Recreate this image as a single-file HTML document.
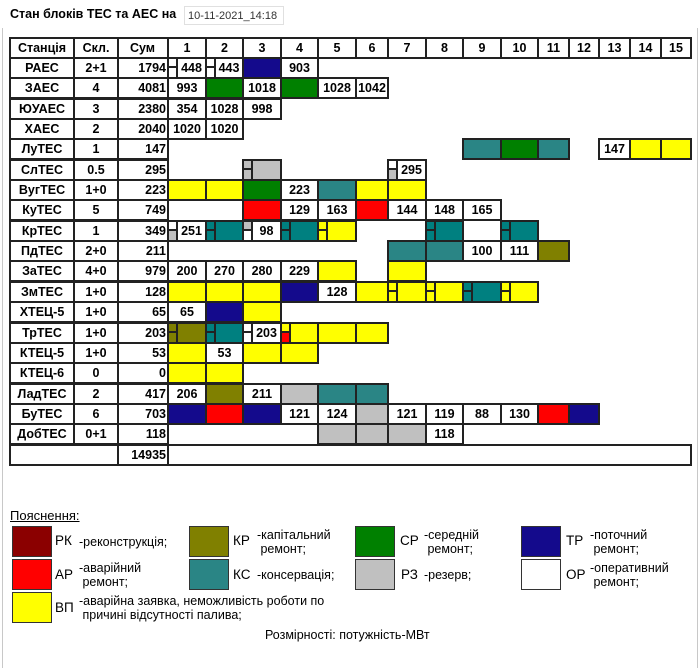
<!DOCTYPE html>
<html><head><meta charset="utf-8">
<style>
body{margin:0;width:700px;height:655px;background:#fff;position:relative;overflow:hidden;font-family:"Liberation Sans",Arial,sans-serif;}
.frame{position:absolute;left:2px;top:28px;width:694px;height:640px;border-left:1px solid #c8c8c8;border-right:1px solid #c8c8c8;}
.c{position:absolute;box-sizing:border-box;border:2px solid #222;height:22px;text-align:center;font:bold 12.5px/18px "Liberation Sans",Arial,sans-serif;color:#000;background:#fff;overflow:hidden;}
.sp{padding-left:9px}
.s{position:absolute;left:0;top:0;bottom:0;width:9px;border-right:2px solid #222;box-sizing:border-box}
.s b{display:block;height:50%;box-sizing:border-box;background:#fff}
.s b:first-child{border-bottom:2px solid #222}
.a{left:9px;width:66px}.b{left:73px;width:46px}.d{left:117px;width:52px;text-align:right;padding-right:1px}
.k1{left:167px;width:40px}.k2{left:205px;width:39px}.k3{left:242px;width:40px}.k4{left:280px;width:39px}.k5{left:317px;width:40px}
.k6{left:355px;width:34px}.k7{left:387px;width:40px}.k8{left:425px;width:39px}.k9{left:462px;width:40px}.k10{left:500px;width:39px}
.k11{left:537px;width:33px}.k12{left:568px;width:32px}.k13{left:598px;width:33px}.k14{left:629px;width:33px}.k15{left:660px;width:32px}
.y{background:#ffff00}.r{background:#ff0000}.n{background:#140a8c}.g{background:#008000}.t{background:#2a8585}.t2{background:#008080}.o{background:#808000}.gr{background:#c0c0c0}
.s b.y{background:#ffff00}.s b.r{background:#ff0000}.s b.t2{background:#008080}.s b.o{background:#808000}.s b.gr{background:#c0c0c0}
.sw{position:absolute;width:40px;height:31px;box-sizing:border-box;border:1.5px solid #333}
.lt{position:absolute;font-size:12.5px;line-height:14px;color:#000}
.ab{position:absolute;font-size:13.5px;color:#000}
</style></head><body>
<div class="frame"></div>
<div style="position:absolute;left:10px;top:7px;font:bold 12.5px 'Liberation Sans',sans-serif">Стан блоків ТЕС та АЕС на</div>
<div style="position:absolute;left:184px;top:6px;width:100px;height:19px;border:1px solid #e0e0e0;box-sizing:border-box;font-size:11px;line-height:18px;color:#333;padding-left:3px">10-11-2021_14:18</div>

<!-- header -->
<div class="c a" style="top:37px">Станція</div><div class="c b" style="top:37px">Скл.</div><div class="c d" style="top:37px;text-align:center">Сум</div>
<div class="c k1" style="top:37px">1</div><div class="c k2" style="top:37px">2</div><div class="c k3" style="top:37px">3</div><div class="c k4" style="top:37px">4</div><div class="c k5" style="top:37px">5</div><div class="c k6" style="top:37px">6</div><div class="c k7" style="top:37px">7</div><div class="c k8" style="top:37px">8</div><div class="c k9" style="top:37px">9</div><div class="c k10" style="top:37px">10</div><div class="c k11" style="top:37px">11</div><div class="c k12" style="top:37px">12</div><div class="c k13" style="top:37px">13</div><div class="c k14" style="top:37px">14</div><div class="c k15" style="top:37px">15</div>

<!-- r0 -->
<div class="c a" style="top:57px">РАЕС</div><div class="c b" style="top:57px">2+1</div><div class="c d" style="top:57px">1794</div>
<div class="c k1 sp" style="top:57px"><i class="s"><b></b><b></b></i>448</div>
<div class="c k2 sp" style="top:57px"><i class="s"><b></b><b></b></i>443</div>
<div class="c k3 n" style="top:57px"></div><div class="c k4" style="top:57px">903</div>
<!-- r1 -->
<div class="c a" style="top:77px">ЗАЕС</div><div class="c b" style="top:77px">4</div><div class="c d" style="top:77px">4081</div>
<div class="c k1" style="top:77px">993</div><div class="c k2 g" style="top:77px"></div><div class="c k3" style="top:77px">1018</div><div class="c k4 g" style="top:77px"></div><div class="c k5" style="top:77px">1028</div><div class="c k6" style="top:77px">1042</div>
<!-- r2 -->
<div class="c a" style="top:98px">ЮУАЕС</div><div class="c b" style="top:98px">3</div><div class="c d" style="top:98px">2380</div>
<div class="c k1" style="top:98px">354</div><div class="c k2" style="top:98px">1028</div><div class="c k3" style="top:98px">998</div>
<!-- r3 -->
<div class="c a" style="top:118px">ХАЕС</div><div class="c b" style="top:118px">2</div><div class="c d" style="top:118px">2040</div>
<div class="c k1" style="top:118px">1020</div><div class="c k2" style="top:118px">1020</div>
<!-- r4 -->
<div class="c a" style="top:138px">ЛуТЕС</div><div class="c b" style="top:138px">1</div><div class="c d" style="top:138px">147</div>
<div class="c k9 t" style="top:138px"></div><div class="c k10 g" style="top:138px"></div><div class="c k11 t" style="top:138px"></div><div class="c k13" style="top:138px">147</div><div class="c k14 y" style="top:138px"></div><div class="c k15 y" style="top:138px"></div>
<!-- r5 -->
<div class="c a" style="top:159px">СлТЕС</div><div class="c b" style="top:159px">0.5</div><div class="c d" style="top:159px">295</div>
<div class="c k3 gr sp" style="top:159px"><i class="s"><b class="gr"></b><b class="gr"></b></i></div>
<div class="c k7 sp" style="top:159px"><i class="s"><b></b><b class="gr"></b></i>295</div>
<!-- r6 -->
<div class="c a" style="top:179px">ВугТЕС</div><div class="c b" style="top:179px">1+0</div><div class="c d" style="top:179px">223</div>
<div class="c k1 y" style="top:179px"></div><div class="c k2 y" style="top:179px"></div><div class="c k3 g" style="top:179px"></div><div class="c k4" style="top:179px">223</div><div class="c k5 t" style="top:179px"></div><div class="c k6 y" style="top:179px"></div><div class="c k7 y" style="top:179px"></div>
<!-- r7 -->
<div class="c a" style="top:199px">КуТЕС</div><div class="c b" style="top:199px">5</div><div class="c d" style="top:199px">749</div>
<div class="c k3 r" style="top:199px"></div><div class="c k4" style="top:199px">129</div><div class="c k5" style="top:199px">163</div><div class="c k6 r" style="top:199px"></div><div class="c k7" style="top:199px">144</div><div class="c k8" style="top:199px">148</div><div class="c k9" style="top:199px">165</div>
<!-- r8 -->
<div class="c a" style="top:220px">КрТЕС</div><div class="c b" style="top:220px">1</div><div class="c d" style="top:220px">349</div>
<div class="c k1 sp" style="top:220px"><i class="s"><b></b><b class="gr"></b></i>251</div>
<div class="c k2 t2 sp" style="top:220px"><i class="s"><b class="t2"></b><b class="t2"></b></i></div>
<div class="c k3 sp" style="top:220px"><i class="s"><b class="gr"></b><b></b></i>98</div>
<div class="c k4 t2 sp" style="top:220px"><i class="s"><b class="t2"></b><b class="t2"></b></i></div>
<div class="c k5 y sp" style="top:220px"><i class="s"><b class="y"></b><b class="y"></b></i></div>
<div class="c k8 t2 sp" style="top:220px"><i class="s"><b class="t2"></b><b class="t2"></b></i></div>
<div class="c k10 t2 sp" style="top:220px"><i class="s"><b class="t2"></b><b class="t2"></b></i></div>
<!-- r9 -->
<div class="c a" style="top:240px">ПдТЕС</div><div class="c b" style="top:240px">2+0</div><div class="c d" style="top:240px">211</div>
<div class="c k7 t" style="top:240px"></div><div class="c k8 t" style="top:240px"></div><div class="c k9" style="top:240px">100</div><div class="c k10" style="top:240px">111</div><div class="c k11 o" style="top:240px"></div>
<!-- r10 -->
<div class="c a" style="top:260px">ЗаТЕС</div><div class="c b" style="top:260px">4+0</div><div class="c d" style="top:260px">979</div>
<div class="c k1" style="top:260px">200</div><div class="c k2" style="top:260px">270</div><div class="c k3" style="top:260px">280</div><div class="c k4" style="top:260px">229</div><div class="c k5 y" style="top:260px"></div><div class="c k7 y" style="top:260px"></div>
<!-- r11 -->
<div class="c a" style="top:281px">ЗмТЕС</div><div class="c b" style="top:281px">1+0</div><div class="c d" style="top:281px">128</div>
<div class="c k1 y" style="top:281px"></div><div class="c k2 y" style="top:281px"></div><div class="c k3 y" style="top:281px"></div><div class="c k4 n" style="top:281px"></div><div class="c k5" style="top:281px">128</div><div class="c k6 y" style="top:281px"></div>
<div class="c k7 y sp" style="top:281px"><i class="s"><b class="y"></b><b class="y"></b></i></div>
<div class="c k8 y sp" style="top:281px"><i class="s"><b class="y"></b><b class="y"></b></i></div>
<div class="c k9 t2 sp" style="top:281px"><i class="s"><b class="t2"></b><b class="t2"></b></i></div>
<div class="c k10 y sp" style="top:281px"><i class="s"><b class="y"></b><b class="y"></b></i></div>
<!-- r12 -->
<div class="c a" style="top:301px">ХТЕЦ-5</div><div class="c b" style="top:301px">1+0</div><div class="c d" style="top:301px">65</div>
<div class="c k1" style="top:301px">65</div><div class="c k2 n" style="top:301px"></div><div class="c k3 y" style="top:301px"></div>
<!-- r13 -->
<div class="c a" style="top:322px">ТрТЕС</div><div class="c b" style="top:322px">1+0</div><div class="c d" style="top:322px">203</div>
<div class="c k1 o sp" style="top:322px"><i class="s"><b class="o"></b><b class="o"></b></i></div>
<div class="c k2 t2 sp" style="top:322px"><i class="s"><b class="t2"></b><b class="t2"></b></i></div>
<div class="c k3 sp" style="top:322px"><i class="s"><b></b><b></b></i>203</div>
<div class="c k4 y sp" style="top:322px"><i class="s"><b class="y"></b><b class="r"></b></i></div>
<div class="c k5 y" style="top:322px"></div><div class="c k6 y" style="top:322px"></div>
<!-- r14 -->
<div class="c a" style="top:342px">КТЕЦ-5</div><div class="c b" style="top:342px">1+0</div><div class="c d" style="top:342px">53</div>
<div class="c k1 y" style="top:342px"></div><div class="c k2" style="top:342px">53</div><div class="c k3 y" style="top:342px"></div><div class="c k4 y" style="top:342px"></div>
<!-- r15 -->
<div class="c a" style="top:362px">КТЕЦ-6</div><div class="c b" style="top:362px">0</div><div class="c d" style="top:362px">0</div>
<div class="c k1 y" style="top:362px"></div><div class="c k2 y" style="top:362px"></div>
<!-- r16 -->
<div class="c a" style="top:383px">ЛадТЕС</div><div class="c b" style="top:383px">2</div><div class="c d" style="top:383px">417</div>
<div class="c k1" style="top:383px">206</div><div class="c k2 o" style="top:383px"></div><div class="c k3" style="top:383px">211</div><div class="c k4 gr" style="top:383px"></div><div class="c k5 t" style="top:383px"></div><div class="c k6 t" style="top:383px"></div>
<!-- r17 -->
<div class="c a" style="top:403px">БуТЕС</div><div class="c b" style="top:403px">6</div><div class="c d" style="top:403px">703</div>
<div class="c k1 n" style="top:403px"></div><div class="c k2 r" style="top:403px"></div><div class="c k3 n" style="top:403px"></div><div class="c k4" style="top:403px">121</div><div class="c k5" style="top:403px">124</div><div class="c k6 gr" style="top:403px"></div><div class="c k7" style="top:403px">121</div><div class="c k8" style="top:403px">119</div><div class="c k9" style="top:403px">88</div><div class="c k10" style="top:403px">130</div><div class="c k11 r" style="top:403px"></div><div class="c k12 n" style="top:403px"></div>
<!-- r18 -->
<div class="c a" style="top:423px">ДобТЕС</div><div class="c b" style="top:423px">0+1</div><div class="c d" style="top:423px">118</div>
<div class="c k5 gr" style="top:423px"></div><div class="c k6 gr" style="top:423px"></div><div class="c k7 gr" style="top:423px"></div><div class="c k8" style="top:423px">118</div>
<!-- total -->
<div class="c" style="top:444px;left:9px;width:110px"></div><div class="c d" style="top:444px">14935</div><div class="c" style="top:444px;left:167px;width:525px"></div>

<!-- legend -->
<div style="position:absolute;left:10px;top:508px;font-size:13px;text-decoration:underline">Пояснення:</div>
<div class="sw" style="left:12px;top:526px;background:#8b0000"></div>
<div class="ab" style="left:55px;top:533px">РК</div><div class="lt" style="left:79px;top:535px">-реконструкція;</div>
<div class="sw" style="left:12px;top:559px;background:#ff0000"></div>
<div class="ab" style="left:55px;top:567px">АР</div><div class="lt" style="left:79px;top:561px">-аварійний<br>&nbsp;ремонт;</div>
<div class="sw" style="left:12px;top:592px;background:#ffff00"></div>
<div class="ab" style="left:55px;top:600px">ВП</div><div class="lt" style="left:79px;top:594px">-аварійна заявка, неможливість роботи по<br>&nbsp;причині відсутності палива;</div>

<div class="sw" style="left:189px;top:526px;background:#808000"></div>
<div class="ab" style="left:233px;top:533px">КР</div><div class="lt" style="left:257px;top:528px">-капітальний<br>&nbsp;ремонт;</div>
<div class="sw" style="left:189px;top:559px;background:#2a8585"></div>
<div class="ab" style="left:233px;top:567px">КС</div><div class="lt" style="left:257px;top:568px">-консервація;</div>

<div class="sw" style="left:355px;top:526px;background:#008000"></div>
<div class="ab" style="left:400px;top:533px">СР</div><div class="lt" style="left:424px;top:528px">-середній<br>&nbsp;ремонт;</div>
<div class="sw" style="left:355px;top:559px;background:#c0c0c0"></div>
<div class="ab" style="left:401px;top:567px">РЗ</div><div class="lt" style="left:424px;top:568px">-резерв;</div>

<div class="sw" style="left:521px;top:526px;background:#140a8c"></div>
<div class="ab" style="left:566px;top:533px">ТР</div><div class="lt" style="left:590px;top:528px">-поточний<br>&nbsp;ремонт;</div>
<div class="sw" style="left:521px;top:559px;background:#fff"></div>
<div class="ab" style="left:566px;top:567px">ОР</div><div class="lt" style="left:590px;top:561px">-оперативний<br>&nbsp;ремонт;</div>

<div class="lt" style="left:265px;top:628px">Розмірності: потужність-МВт</div>
</body></html>
